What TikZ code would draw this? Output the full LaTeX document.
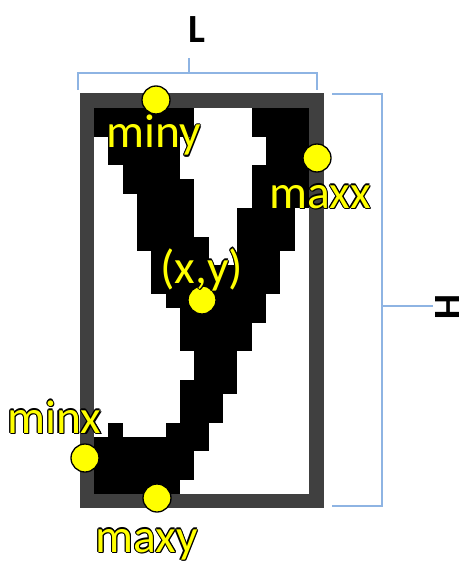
\documentclass[tikz,border=0pt]{standalone}
\usepackage{fontspec}
\setmainfont{Carlito}
\definecolor{framegray}{HTML}{404040}
\definecolor{bracketblue}{HTML}{8EB4E3}
\definecolor{dotyellow}{HTML}{FFFF00}
\newcommand\outl[1]{%
  \def\cp##1##2{\rlap{\kern##1\raisebox{##2}{\color{black}#1}}}%
  \cp{1.1pt}{0pt}\cp{-1.1pt}{0pt}\cp{0pt}{1.1pt}\cp{0pt}{-1.1pt}%
  \cp{.8pt}{.8pt}\cp{-.8pt}{.8pt}\cp{.8pt}{-.8pt}\cp{-.8pt}{-.8pt}%
  \cp{1.5pt}{-1.5pt}#1}
\begin{document}
\begin{tikzpicture}[x=1pt,y=-1pt,
  dot/.style={circle,fill=dotyellow,draw=black,line width=1.3pt,minimum size=28pt,inner sep=0pt},
  lbl/.style={text=dotyellow,font=\fontsize{47.5}{52}\selectfont,inner sep=0pt,anchor=base west},
  dimlbl/.style={text=black,font=\fontsize{40}{44}\selectfont\bfseries,inner sep=0pt},
  brk/.style={draw=bracketblue,line width=1.3pt}]
\useasboundingbox (0,0) rectangle (458,561);
% frame
\fill[framegray] (80,93) rectangle (324,508);
\fill[white] (94,108) rectangle (309,494);
% pixel glyph
\foreach \r/\a/\b in {0/0/7,0/11/15,1/0/7,1/11/15,2/1/6,2/12/15,3/1/6,3/12/15,
  4/2/6,4/11/15,5/2/7,5/11/15,6/3/7,6/11/15,7/3/7,7/10/14,8/3/7,8/10/14,
  9/3/8,9/10/14,10/4/8,10/10/13,11/4/13,12/4/13,13/5/12,14/6/12,15/6/11,16/6/11,
  17/7/10,18/7/10,19/6/10,20/6/9,21/6/9,22/1/2,22/5/8,23/0/8,24/0/7,25/0/7,26/0/6}
  \fill[black] ({94+\a*14.333},{108+\r*14.296}) rectangle ({94+\b*14.333},{108+\r*14.296+14.6});
% brackets
\coordinate (La) at (78,90); \coordinate (Lb) at (78,73); \coordinate (Lc) at (317,73); \coordinate (Ld) at (317,90);
\coordinate (Lm) at (189,73); \coordinate (Lt) at (189,58);
\draw[brk] (La) -- (Lb) -- (Lc) -- (Ld);
\draw[brk] (Lm) -- (Lt);
\coordinate (Ha) at (332,94); \coordinate (Hb) at (382,94); \coordinate (Hc) at (382,506); \coordinate (Hd) at (332,506);
\coordinate (Hm) at (382,306); \coordinate (Ht) at (433,306);
\draw[brk] (Ha) -- (Hb) -- (Hc) -- (Hd);
\draw[brk] (Hm) -- (Ht);
\node[dimlbl,anchor=base] (lL) at (196.5,43) {L};
\node[dimlbl,anchor=base,rotate=-90] (lH) at (435,307.5) {H};
% dots
\node[dot] (dminy) at (156,100) {};
\node[dot] (dmaxx) at (317,158) {};
\node[dot] (dxy) at (202,300) {};
\node[dot] (dminx) at (85,458) {};
\node[dot] (dmaxy) at (157,498) {};
% labels
\node[lbl] (lminy) at (106,148) {\outl{miny}};
\node[lbl] (lmaxx) at (269,208) {\outl{maxx}};
\node[lbl] (lxy) at (160,283) {\outl{(x,y)}};
\node[lbl] (lminx) at (7,433) {\outl{minx}};
\node[lbl] (lmaxy) at (95,552) {\outl{maxy}};
\end{tikzpicture}
\end{document}
